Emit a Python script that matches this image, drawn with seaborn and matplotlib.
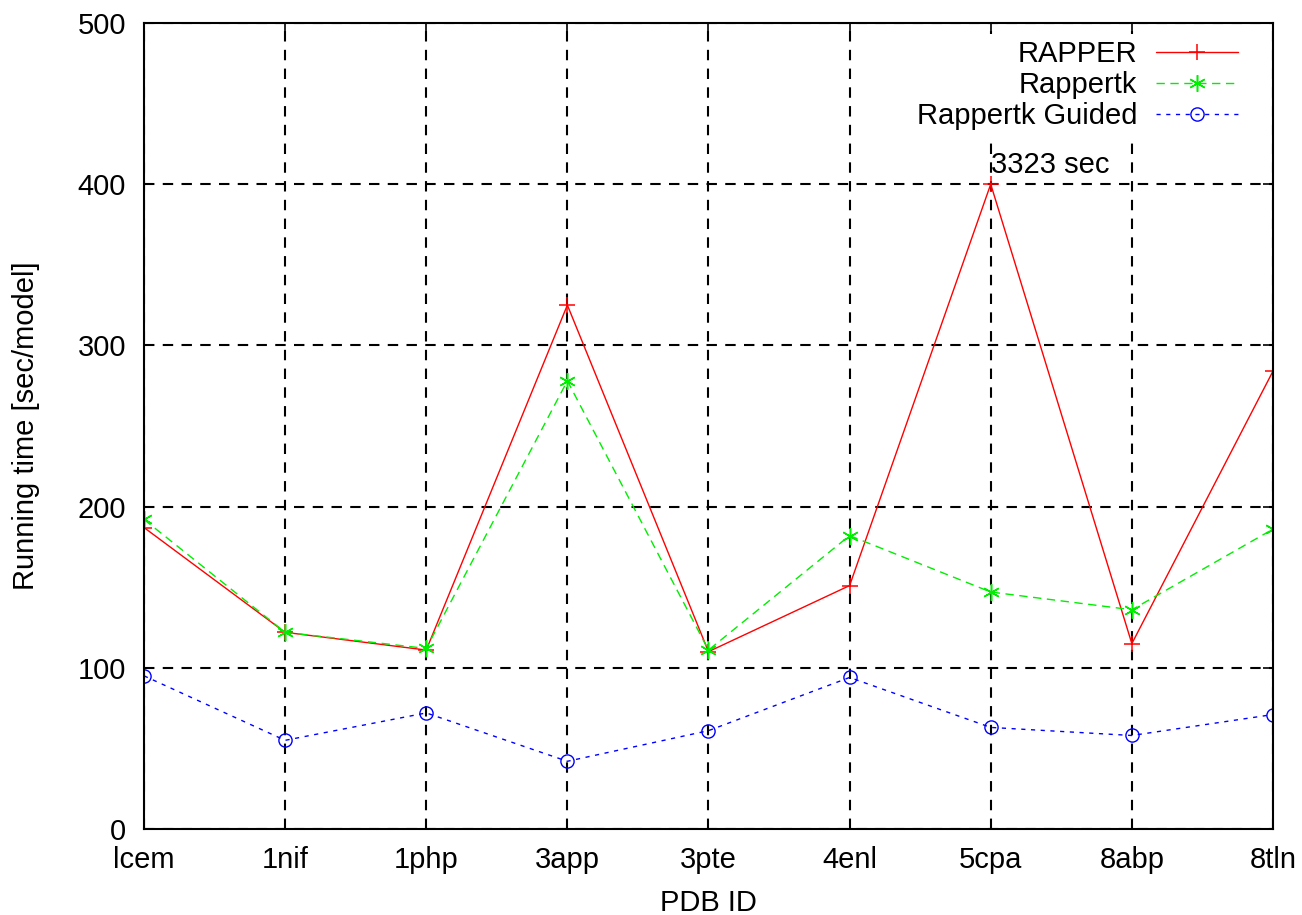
import pandas as pd
import seaborn as sns
import matplotlib
matplotlib.use("Agg")
import matplotlib.pyplot as plt

# PDB ids along the x axis
pdb_ids = ["lcem", "1nif", "1php", "3app", "3pte", "4enl", "5cpa", "8abp", "8tln"]

# running time per model (sec/model)
# 5cpa for RAPPER is really 3323 sec, drawn capped at 400 like the original
rapper = [187, 122, 111, 325, 110, 151, 400, 115, 284]
rappertk = [192, 122, 112, 278, 111, 182, 147, 136, 186]
rappertk_guided = [95, 55, 72, 42, 61, 94, 63, 58, 71]

sns.set_theme(style="white")
plt.rcParams["font.family"] = ["Liberation Sans", "DejaVu Sans"]
plt.rcParams.update({"text.color": "black", "axes.labelcolor": "black",
                     "xtick.color": "black", "ytick.color": "black"})
FS = 21

fig = plt.figure(figsize=(13.02, 9.15), dpi=100)
ax = fig.add_axes([0.1106, 0.094, 0.8671, 0.8809])

df = pd.DataFrame({"pdb": pdb_ids, "RAPPER": rapper, "Rappertk": rappertk,
                   "Rappertk Guided": rappertk_guided})

red, green, blue = "#ff0000", "#00ee00", "#0000ff"
sns.lineplot(data=df, x="pdb", y="RAPPER", ax=ax, sort=False, color=red,
             lw=1.0, marker="+", markersize=11, mew=1.1, mec=red, label="RAPPER")
sns.lineplot(data=df, x="pdb", y="Rappertk", ax=ax, sort=False, color=green,
             lw=1.0, linestyle=(0, (6, 4)), marker=(6, 2, 0), markersize=12, mew=1.1,
             mec=green, label="Rappertk")
sns.lineplot(data=df, x="pdb", y="Rappertk Guided", ax=ax, sort=False, color=blue,
             lw=1.0, linestyle=(0, (3, 4)), marker="o", markersize=9.5, mew=1.0,
             mec=blue, mfc="none", label="Rappertk Guided")

ax.set_xlim(0, len(pdb_ids) - 1)
ax.set_ylim(0, 500)
ax.set_yticks([0, 100, 200, 300, 400, 500])

ax.grid(True, color="black", lw=1.5, linestyle=(0, (5, 4)))
ax.set_axisbelow(True)
for s in ax.spines.values():
    s.set_color("black")
    s.set_linewidth(1.5)
    s.set_zorder(6)

ax.tick_params(direction="in", length=7, width=1.2, top=True, right=True,
               labelsize=FS)
ax.tick_params(axis="y", pad=13)
ax.tick_params(axis="x", pad=12)

ax.set_xlabel("PDB ID", fontsize=FS, labelpad=11)
ax.set_ylabel("Running time [sec/model]", fontsize=FS, labelpad=27)

ax.text(6, 403, "3323 sec", fontsize=FS, ha="left", va="bottom")

leg = ax.legend(loc="upper right", bbox_to_anchor=(0.974, 0.986), frameon=True,
                facecolor="white", edgecolor="none", framealpha=1, fancybox=False,
                borderpad=0.2, borderaxespad=0, markerfirst=False, fontsize=FS,
                handlelength=2.8, handletextpad=0.65, labelspacing=0.1)

fig.savefig("out.png", dpi=100)
